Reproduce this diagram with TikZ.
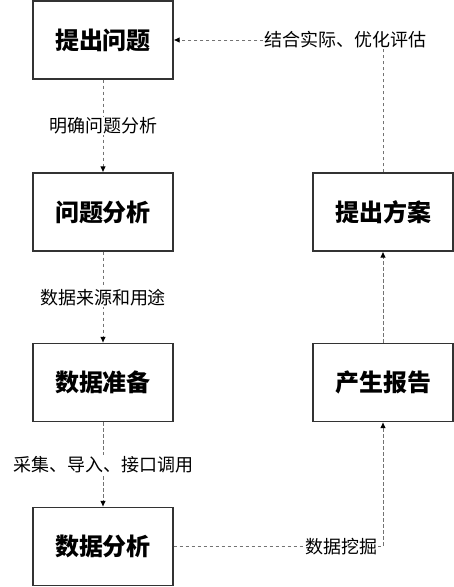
\documentclass[tikz,border=0pt]{standalone}
\usepackage{fontspec}
\setmainfont{Noto Sans CJK SC}
\usetikzlibrary{arrows,arrows.meta,positioning}

\begin{document}
\begin{tikzpicture}[
    x=1pt, y=-1pt,
    stage/.style={rectangle, draw=black!80, line width=1.2pt, minimum width=140pt, minimum height=78pt, text centered, font=\fontsize{24pt}{28pt}\selectfont\bfseries},
    flow/.style={draw=black!55, line width=0.9pt, dash pattern=on 3.5pt off 2.5pt, -{Latex[black, length=6pt, width=5.5pt]}},
    note/.style={fill=white, inner sep=1pt, font=\fontsize{18pt}{21pt}\selectfont}
]
\useasboundingbox (0,0) rectangle (454,587);

% Left column
\node[stage] (ask) at (103,40) {提出问题};
\node[stage] (study) at (103,212) {问题分析};
\node[stage] (prepare) at (103,382.5) {数据准备};
\node[stage] (analyse) at (103,546.5) {数据分析};

% Right column
\node[stage] (report) at (383,382.5) {产生报告};
\node[stage] (plan) at (383,212) {提出方案};

% Connections
\draw[flow] (ask) -- node[note] {明确问题分析} (study);
\draw[flow] (study) -- node[note] {数据来源和用途} (prepare);
\draw[flow] (prepare) -- node[note] {采集、导入、接口调用} (analyse);
\draw[flow] (analyse) -| node[note, pos=0.40] {数据挖掘} (report);
\draw[flow] (report) -- (plan);
\draw[flow] (plan) |- node[note, pos=0.59] {结合实际、优化评估} (ask);

\end{tikzpicture}
\end{document}
